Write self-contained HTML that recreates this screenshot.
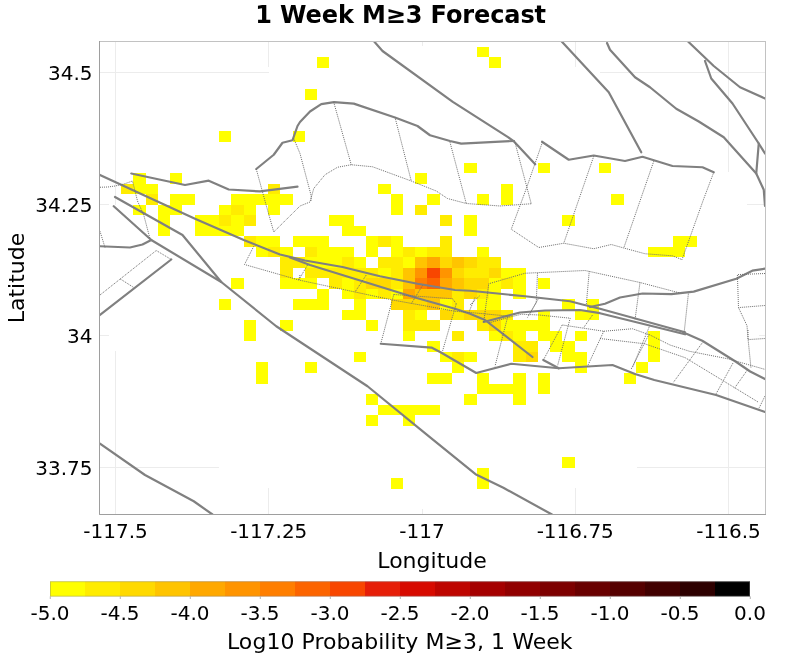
<!DOCTYPE html>
<html><head><meta charset="utf-8"><title>1 Week M≥3 Forecast</title>
<style>
html,body{margin:0;padding:0;background:#fff;}
body{width:800px;height:662px;overflow:hidden;font-family:"DejaVu Sans","Liberation Sans",sans-serif;}
svg{display:block}
text{font-family:"DejaVu Sans","Liberation Sans",sans-serif;fill:#000}
.tick text{font-size:20px}
.lab{font-size:22px}
.title{font-size:24px;font-weight:bold}
.grid line{stroke:#ececec;stroke-width:1}
.tr{fill:none;stroke:#808080;stroke-width:2.2;stroke-linecap:round;stroke-linejoin:round}
.ol{fill:none;stroke:#8c8c8c;stroke-width:0.9;}
.dt{fill:none;stroke:#6e6e6e;stroke-width:1;stroke-dasharray:1 1}
</style></head><body>
<svg width="800" height="662" viewBox="0 0 800 662">
<rect x="0" y="0" width="800" height="662" fill="#ffffff"/>
<text class="title" x="400.6" y="23" text-anchor="middle" letter-spacing="-0.11">1 Week M≥3 Forecast</text>
<g class="grid" shape-rendering="crispEdges"><line x1="115.5" y1="41" x2="115.5" y2="204.5"/><line x1="115.5" y1="351" x2="115.5" y2="514"/><line x1="268.5" y1="41" x2="268.5" y2="67"/><line x1="268.5" y1="488" x2="268.5" y2="514"/><line x1="422.5" y1="41" x2="422.5" y2="46"/><line x1="422.5" y1="509" x2="422.5" y2="514"/><line x1="575.5" y1="41" x2="575.5" y2="67"/><line x1="575.5" y1="488" x2="575.5" y2="514"/><line x1="728.5" y1="41" x2="728.5" y2="172"/><line x1="728.5" y1="384" x2="728.5" y2="514"/><line x1="100" y1="72.5" x2="268.5" y2="72.5"/><line x1="600" y1="72.5" x2="765" y2="72.5"/><line x1="100" y1="204.5" x2="109" y2="204.5"/><line x1="747" y1="204.5" x2="765" y2="204.5"/><line x1="100" y1="335.5" x2="109" y2="335.5"/><line x1="759" y1="335.5" x2="765" y2="335.5"/><line x1="100" y1="467.5" x2="219" y2="467.5"/><line x1="637" y1="467.5" x2="765" y2="467.5"/></g>
<g shape-rendering="crispEdges">
<rect x="477" y="47" width="12" height="10" fill="#ffff00"/><rect x="317" y="57" width="12" height="11" fill="#ffff00"/><rect x="489" y="57" width="12" height="11" fill="#ffff00"/><rect x="305" y="89" width="12" height="11" fill="#ffff00"/><rect x="219" y="131" width="12" height="11" fill="#ffff00"/><rect x="293" y="131" width="12" height="11" fill="#ffff00"/><rect x="464" y="163" width="13" height="10" fill="#ffff00"/><rect x="538" y="163" width="12" height="10" fill="#ffff00"/><rect x="599" y="163" width="12" height="10" fill="#ffff00"/><rect x="133" y="173" width="13" height="11" fill="#ffff00"/><rect x="170" y="173" width="12" height="11" fill="#ffff00"/><rect x="415" y="173" width="12" height="11" fill="#ffff00"/><rect x="121" y="184" width="12" height="10" fill="#ffec00"/><rect x="133" y="184" width="13" height="10" fill="#ffff00"/><rect x="146" y="184" width="12" height="10" fill="#ffff00"/><rect x="268" y="184" width="12" height="10" fill="#ffec00"/><rect x="378" y="184" width="13" height="10" fill="#ffff00"/><rect x="501" y="184" width="12" height="10" fill="#ffff00"/><rect x="146" y="194" width="12" height="11" fill="#ffec00"/><rect x="170" y="194" width="12" height="11" fill="#ffff00"/><rect x="182" y="194" width="13" height="11" fill="#ffff00"/><rect x="231" y="194" width="13" height="11" fill="#ffff00"/><rect x="244" y="194" width="12" height="11" fill="#ffff00"/><rect x="256" y="194" width="12" height="11" fill="#ffff00"/><rect x="268" y="194" width="12" height="11" fill="#ffff00"/><rect x="280" y="194" width="13" height="11" fill="#ffff00"/><rect x="391" y="194" width="12" height="11" fill="#ffff00"/><rect x="427" y="194" width="13" height="11" fill="#ffff00"/><rect x="477" y="194" width="12" height="11" fill="#ffff00"/><rect x="501" y="194" width="12" height="11" fill="#ffff00"/><rect x="611" y="194" width="13" height="11" fill="#ffff00"/><rect x="133" y="205" width="13" height="10" fill="#ffff00"/><rect x="158" y="205" width="12" height="10" fill="#ffff00"/><rect x="170" y="205" width="12" height="10" fill="#ffff00"/><rect x="219" y="205" width="12" height="10" fill="#ffff00"/><rect x="231" y="205" width="13" height="10" fill="#ffec00"/><rect x="244" y="205" width="12" height="10" fill="#ffff00"/><rect x="268" y="205" width="12" height="10" fill="#ffff00"/><rect x="391" y="205" width="12" height="10" fill="#ffff00"/><rect x="415" y="205" width="12" height="10" fill="#ffec00"/><rect x="158" y="215" width="12" height="11" fill="#ffff00"/><rect x="195" y="215" width="12" height="11" fill="#ffff00"/><rect x="207" y="215" width="12" height="11" fill="#ffff00"/><rect x="219" y="215" width="12" height="11" fill="#ffec00"/><rect x="231" y="215" width="13" height="11" fill="#ffff00"/><rect x="244" y="215" width="12" height="11" fill="#ffec00"/><rect x="329" y="215" width="13" height="11" fill="#ffff00"/><rect x="342" y="215" width="12" height="11" fill="#ffff00"/><rect x="440" y="215" width="12" height="11" fill="#ffec00"/><rect x="464" y="215" width="13" height="11" fill="#ffff00"/><rect x="562" y="215" width="13" height="11" fill="#ffff00"/><rect x="158" y="226" width="12" height="10" fill="#ffff00"/><rect x="195" y="226" width="12" height="10" fill="#ffff00"/><rect x="207" y="226" width="12" height="10" fill="#ffff00"/><rect x="219" y="226" width="12" height="10" fill="#ffff00"/><rect x="231" y="226" width="13" height="10" fill="#ffff00"/><rect x="342" y="226" width="12" height="10" fill="#ffff00"/><rect x="354" y="226" width="12" height="10" fill="#ffff00"/><rect x="464" y="226" width="13" height="10" fill="#ffff00"/><rect x="244" y="236" width="12" height="11" fill="#ffec00"/><rect x="256" y="236" width="12" height="11" fill="#ffff00"/><rect x="268" y="236" width="12" height="11" fill="#ffff00"/><rect x="293" y="236" width="12" height="11" fill="#ffff00"/><rect x="305" y="236" width="12" height="11" fill="#ffff00"/><rect x="317" y="236" width="12" height="11" fill="#ffff00"/><rect x="366" y="236" width="12" height="11" fill="#ffff00"/><rect x="378" y="236" width="13" height="11" fill="#ffec00"/><rect x="391" y="236" width="12" height="11" fill="#ffff00"/><rect x="440" y="236" width="12" height="11" fill="#ffec00"/><rect x="673" y="236" width="12" height="11" fill="#ffff00"/><rect x="685" y="236" width="12" height="11" fill="#ffff00"/><rect x="256" y="247" width="12" height="10" fill="#ffff00"/><rect x="268" y="247" width="12" height="10" fill="#ffec00"/><rect x="280" y="247" width="13" height="10" fill="#ffff00"/><rect x="305" y="247" width="12" height="10" fill="#ffec00"/><rect x="317" y="247" width="12" height="10" fill="#ffff00"/><rect x="329" y="247" width="13" height="10" fill="#ffff00"/><rect x="342" y="247" width="12" height="10" fill="#ffff00"/><rect x="366" y="247" width="12" height="10" fill="#ffff00"/><rect x="391" y="247" width="12" height="10" fill="#ffff00"/><rect x="403" y="247" width="12" height="10" fill="#ffec00"/><rect x="415" y="247" width="12" height="10" fill="#ffff00"/><rect x="427" y="247" width="13" height="10" fill="#ffec00"/><rect x="440" y="247" width="12" height="10" fill="#ffec00"/><rect x="477" y="247" width="12" height="10" fill="#ffff00"/><rect x="648" y="247" width="12" height="10" fill="#ffff00"/><rect x="660" y="247" width="13" height="10" fill="#ffff00"/><rect x="673" y="247" width="12" height="10" fill="#ffff00"/><rect x="280" y="257" width="13" height="11" fill="#ffec00"/><rect x="293" y="257" width="12" height="11" fill="#ffec00"/><rect x="305" y="257" width="12" height="11" fill="#ffff00"/><rect x="317" y="257" width="12" height="11" fill="#ffff00"/><rect x="329" y="257" width="13" height="11" fill="#ffff00"/><rect x="342" y="257" width="12" height="11" fill="#ffec00"/><rect x="354" y="257" width="12" height="11" fill="#ffff00"/><rect x="378" y="257" width="13" height="11" fill="#ffec00"/><rect x="391" y="257" width="12" height="11" fill="#ffec00"/><rect x="403" y="257" width="12" height="11" fill="#ffff00"/><rect x="415" y="257" width="12" height="11" fill="#ffc400"/><rect x="427" y="257" width="13" height="11" fill="#ffa800"/><rect x="440" y="257" width="12" height="11" fill="#ffd900"/><rect x="452" y="257" width="12" height="11" fill="#ffc400"/><rect x="464" y="257" width="13" height="11" fill="#ffd900"/><rect x="477" y="257" width="12" height="11" fill="#ffec00"/><rect x="489" y="257" width="12" height="11" fill="#ffec00"/><rect x="280" y="268" width="13" height="10" fill="#ffec00"/><rect x="305" y="268" width="12" height="10" fill="#ffec00"/><rect x="317" y="268" width="12" height="10" fill="#ffec00"/><rect x="329" y="268" width="13" height="10" fill="#ffec00"/><rect x="342" y="268" width="12" height="10" fill="#ffec00"/><rect x="354" y="268" width="12" height="10" fill="#ffec00"/><rect x="366" y="268" width="12" height="10" fill="#ffec00"/><rect x="378" y="268" width="13" height="10" fill="#ffff00"/><rect x="391" y="268" width="12" height="10" fill="#ffec00"/><rect x="403" y="268" width="12" height="10" fill="#ffc400"/><rect x="415" y="268" width="12" height="10" fill="#ff9400"/><rect x="427" y="268" width="13" height="10" fill="#f84600"/><rect x="440" y="268" width="12" height="10" fill="#ff9400"/><rect x="452" y="268" width="12" height="10" fill="#ffd900"/><rect x="464" y="268" width="13" height="10" fill="#ffec00"/><rect x="477" y="268" width="12" height="10" fill="#ffec00"/><rect x="489" y="268" width="12" height="10" fill="#ffd900"/><rect x="501" y="268" width="12" height="10" fill="#ffff00"/><rect x="513" y="268" width="13" height="10" fill="#ffff00"/><rect x="231" y="278" width="13" height="11" fill="#ffff00"/><rect x="280" y="278" width="13" height="11" fill="#ffff00"/><rect x="293" y="278" width="12" height="11" fill="#ffff00"/><rect x="305" y="278" width="12" height="11" fill="#ffff00"/><rect x="329" y="278" width="13" height="11" fill="#ffec00"/><rect x="342" y="278" width="12" height="11" fill="#ffff00"/><rect x="354" y="278" width="12" height="11" fill="#ffec00"/><rect x="366" y="278" width="12" height="11" fill="#ffd900"/><rect x="378" y="278" width="13" height="11" fill="#ffd900"/><rect x="391" y="278" width="12" height="11" fill="#ffec00"/><rect x="403" y="278" width="12" height="11" fill="#ffc400"/><rect x="415" y="278" width="12" height="11" fill="#ff7e00"/><rect x="427" y="278" width="13" height="11" fill="#fc6400"/><rect x="440" y="278" width="12" height="11" fill="#ffa800"/><rect x="452" y="278" width="12" height="11" fill="#ffc400"/><rect x="464" y="278" width="13" height="11" fill="#ffd900"/><rect x="477" y="278" width="12" height="11" fill="#ffd900"/><rect x="489" y="278" width="12" height="11" fill="#ffff00"/><rect x="501" y="278" width="12" height="11" fill="#ffec00"/><rect x="513" y="278" width="13" height="11" fill="#ffff00"/><rect x="538" y="278" width="12" height="11" fill="#ffff00"/><rect x="317" y="289" width="12" height="10" fill="#ffff00"/><rect x="342" y="289" width="12" height="10" fill="#ffff00"/><rect x="354" y="289" width="12" height="10" fill="#ffec00"/><rect x="366" y="289" width="12" height="10" fill="#ffff00"/><rect x="378" y="289" width="13" height="10" fill="#ffec00"/><rect x="391" y="289" width="12" height="10" fill="#ffff00"/><rect x="403" y="289" width="12" height="10" fill="#ffa800"/><rect x="415" y="289" width="12" height="10" fill="#ffc400"/><rect x="427" y="289" width="13" height="10" fill="#ffc400"/><rect x="440" y="289" width="12" height="10" fill="#ffc400"/><rect x="452" y="289" width="12" height="10" fill="#ffec00"/><rect x="464" y="289" width="13" height="10" fill="#ffd900"/><rect x="477" y="289" width="12" height="10" fill="#ffec00"/><rect x="489" y="289" width="12" height="10" fill="#ffff00"/><rect x="513" y="289" width="13" height="10" fill="#ffff00"/><rect x="219" y="299" width="12" height="11" fill="#ffff00"/><rect x="293" y="299" width="12" height="11" fill="#ffff00"/><rect x="305" y="299" width="12" height="11" fill="#ffff00"/><rect x="317" y="299" width="12" height="11" fill="#ffff00"/><rect x="354" y="299" width="12" height="11" fill="#ffff00"/><rect x="391" y="299" width="12" height="11" fill="#ffd900"/><rect x="403" y="299" width="12" height="11" fill="#ffd900"/><rect x="415" y="299" width="12" height="11" fill="#ffd900"/><rect x="427" y="299" width="13" height="11" fill="#ffc400"/><rect x="440" y="299" width="12" height="11" fill="#ffff00"/><rect x="452" y="299" width="12" height="11" fill="#ffec00"/><rect x="477" y="299" width="12" height="11" fill="#ffff00"/><rect x="489" y="299" width="12" height="11" fill="#ffff00"/><rect x="562" y="299" width="13" height="11" fill="#ffff00"/><rect x="587" y="299" width="12" height="11" fill="#ffff00"/><rect x="342" y="310" width="12" height="10" fill="#ffff00"/><rect x="354" y="310" width="12" height="10" fill="#ffff00"/><rect x="403" y="310" width="12" height="10" fill="#ffec00"/><rect x="415" y="310" width="12" height="10" fill="#ffff00"/><rect x="440" y="310" width="12" height="10" fill="#ffd900"/><rect x="452" y="310" width="12" height="10" fill="#ffec00"/><rect x="464" y="310" width="13" height="10" fill="#ffd900"/><rect x="477" y="310" width="12" height="10" fill="#ffd900"/><rect x="489" y="310" width="12" height="10" fill="#ffd900"/><rect x="501" y="310" width="12" height="10" fill="#ffec00"/><rect x="538" y="310" width="12" height="10" fill="#ffff00"/><rect x="575" y="310" width="12" height="10" fill="#ffff00"/><rect x="587" y="310" width="12" height="10" fill="#ffff00"/><rect x="244" y="320" width="12" height="11" fill="#ffff00"/><rect x="280" y="320" width="13" height="11" fill="#ffff00"/><rect x="366" y="320" width="12" height="11" fill="#ffff00"/><rect x="403" y="320" width="12" height="11" fill="#ffec00"/><rect x="415" y="320" width="12" height="11" fill="#ffec00"/><rect x="427" y="320" width="13" height="11" fill="#ffec00"/><rect x="477" y="320" width="12" height="11" fill="#ffec00"/><rect x="489" y="320" width="12" height="11" fill="#ffd900"/><rect x="501" y="320" width="12" height="11" fill="#ffff00"/><rect x="513" y="320" width="13" height="11" fill="#ffff00"/><rect x="526" y="320" width="12" height="11" fill="#ffff00"/><rect x="538" y="320" width="12" height="11" fill="#ffff00"/><rect x="244" y="331" width="12" height="10" fill="#ffff00"/><rect x="403" y="331" width="12" height="10" fill="#ffff00"/><rect x="452" y="331" width="12" height="10" fill="#ffec00"/><rect x="489" y="331" width="12" height="10" fill="#ffff00"/><rect x="501" y="331" width="12" height="10" fill="#ffec00"/><rect x="513" y="331" width="13" height="10" fill="#ffff00"/><rect x="538" y="331" width="12" height="10" fill="#ffff00"/><rect x="550" y="331" width="12" height="10" fill="#ffff00"/><rect x="575" y="331" width="12" height="10" fill="#ffff00"/><rect x="648" y="331" width="12" height="10" fill="#ffff00"/><rect x="427" y="341" width="13" height="11" fill="#ffff00"/><rect x="513" y="341" width="13" height="11" fill="#ffec00"/><rect x="526" y="341" width="12" height="11" fill="#ffec00"/><rect x="550" y="341" width="12" height="11" fill="#ffff00"/><rect x="562" y="341" width="13" height="11" fill="#ffff00"/><rect x="648" y="341" width="12" height="11" fill="#ffff00"/><rect x="354" y="352" width="12" height="10" fill="#ffff00"/><rect x="440" y="352" width="12" height="10" fill="#ffff00"/><rect x="452" y="352" width="12" height="10" fill="#ffec00"/><rect x="464" y="352" width="13" height="10" fill="#ffff00"/><rect x="513" y="352" width="13" height="10" fill="#ffec00"/><rect x="526" y="352" width="12" height="10" fill="#ffd900"/><rect x="562" y="352" width="13" height="10" fill="#ffff00"/><rect x="575" y="352" width="12" height="10" fill="#ffff00"/><rect x="648" y="352" width="12" height="10" fill="#ffff00"/><rect x="256" y="362" width="12" height="11" fill="#ffff00"/><rect x="305" y="362" width="12" height="11" fill="#ffff00"/><rect x="452" y="362" width="12" height="11" fill="#ffff00"/><rect x="575" y="362" width="12" height="11" fill="#ffff00"/><rect x="636" y="362" width="12" height="11" fill="#ffff00"/><rect x="256" y="373" width="12" height="11" fill="#ffff00"/><rect x="427" y="373" width="13" height="11" fill="#ffff00"/><rect x="440" y="373" width="12" height="11" fill="#ffff00"/><rect x="477" y="373" width="12" height="11" fill="#ffff00"/><rect x="513" y="373" width="13" height="11" fill="#ffff00"/><rect x="538" y="373" width="12" height="11" fill="#ffff00"/><rect x="624" y="373" width="12" height="11" fill="#ffff00"/><rect x="477" y="384" width="12" height="10" fill="#ffff00"/><rect x="489" y="384" width="12" height="10" fill="#ffff00"/><rect x="501" y="384" width="12" height="10" fill="#ffff00"/><rect x="513" y="384" width="13" height="10" fill="#ffff00"/><rect x="538" y="384" width="12" height="10" fill="#ffff00"/><rect x="366" y="394" width="12" height="11" fill="#ffff00"/><rect x="464" y="394" width="13" height="11" fill="#ffff00"/><rect x="513" y="394" width="13" height="11" fill="#ffff00"/><rect x="378" y="405" width="13" height="10" fill="#ffff00"/><rect x="391" y="405" width="12" height="10" fill="#ffff00"/><rect x="403" y="405" width="12" height="10" fill="#ffff00"/><rect x="415" y="405" width="12" height="10" fill="#ffff00"/><rect x="427" y="405" width="13" height="10" fill="#ffff00"/><rect x="366" y="415" width="12" height="11" fill="#ffff00"/><rect x="403" y="415" width="12" height="11" fill="#ffff00"/><rect x="562" y="457" width="13" height="11" fill="#ffff00"/><rect x="477" y="468" width="12" height="10" fill="#ffff00"/><rect x="391" y="478" width="12" height="11" fill="#ffff00"/><rect x="477" y="478" width="12" height="11" fill="#ffff00"/>
</g>
<clipPath id="pc"><rect x="100" y="41.5" width="665.5" height="473"/></clipPath>
<g clip-path="url(#pc)">
<path class="tr" d="M131.25 173.5 L185 185 L208.75 180.7 L228.75 189.5 L260 191.4 L297.5 186.7"/>
<path class="tr" d="M100 175 L195 218.75 L243.75 240 L280 254.5 L305 260.5 L342.5 267 L380 276.25 L417.5 283.75 L455 290 L470 290.75 L525 296.25 L570 301.25 L582.5 304.5 L600 308.8 L685 332.3"/>
<path class="tr" d="M290 257.5 L310 265 L362.5 281.25 L415 297.5 L455 308.75 L470 313.75 L485 320 L532.5 357"/>
<path class="tr" d="M483.75 322 L520 312.5 L545 310.5 L580 310 L600 313.2 L685 334.3"/>
<path class="tr" d="M590 307 L605 303.75 L620 297.5 L642.6 293.5 L671.4 294.2 L693.7 291.6 L736.3 278.8 L752.3 270.7 L765 268.6"/>
<path class="tr" d="M683 332.6 L687 334 L702.3 340.7 L736.3 362 L750.2 371.5 L765 379"/>
<path class="tr" d="M380.75 343.75 L431.5 347.6 L441 352.5 L476.25 373 L511.25 363.75 L558.75 368.25 L612.5 365 L635 374 L654.3 380 L716.1 395 L765 412"/>
<path class="tr" d="M543.25 360 L558.75 368.25"/>
<path class="tr" d="M100 443.75 L145 475 L193.75 501.25 L212.5 514.5"/>
<path class="tr" d="M115 197 L182.5 235 L221.25 282"/>
<path class="tr" d="M113.75 206.25 L151.25 240 L221.25 282 L276.25 326.25 L367.5 386.25 L428 435.6 L475.5 474.2 L503.4 487.8 L552 514.5"/>
<path class="tr" d="M100 246.25 L130 247.5 L142.5 244.5 L151.25 240"/>
<path class="tr" d="M100 315 L171.25 259.5"/>
<path class="tr" d="M256.25 169 L273.75 154.75 L282.5 142.75 L292.5 140.25 L297.5 126 L300 122 L310 111.5 L321.25 104.2 L334 102.2 L353.75 103.6 L395 117.5 L417.5 126 L430 135.25 L450 141 L461.25 143.6 L500 141.6 L514 141"/>
<path class="tr" d="M373.75 41 L382.5 51 L452.8 101.9 L508 137.1 L514 141.5 L535.2 164.3"/>
<path class="tr" d="M542 141.75 L568.75 159.75 L593.75 155.5 L625 161 L642.5 156.75 L672.5 166 L702.5 167.25 L713.75 172.25"/>
<path class="tr" d="M561.25 41 L608.75 92.25 L641.25 152.25"/>
<path class="tr" d="M607 43 L610 49.75 L635 77.25 L650 87.25 L676.25 108.75 L698.75 121.5 L723.75 137.25 L756.25 173.5 L763.75 189.75 L765 206"/>
<path class="tr" d="M687.5 41 L713.75 66 L740 87.25 L765 98.5"/>
<path class="tr" d="M705 61 L711.25 78.5 L732.5 103.5 L758.75 143.5 L765 153.5"/>
<path class="tr" d="M758.75 143.5 L756.25 173.5"/>
<path class="dt" d="M100 187.25 L108 187 L115 186 L124 184 L132.5 181 L137.5 201 L143.75 215 L150 238.75"/>
<path class="dt" d="M100 231.25 L105 247.5"/>
<path class="dt" d="M100 295 L156.25 250.5 L171.25 259.5"/>
<path class="dt" d="M120 278.75 L133.75 287.5"/>
<path class="dt" d="M256.25 169 L265 201 L273.75 232 L300 206 L310 202 L313.75 188.5 L325 174.75 L337.5 167.25 L351.25 164.75 L372.5 166.75 L411.25 181 L436.25 191 L447.5 198.5 L466.25 203.5 L500 206 L531.25 203.75"/>
<path class="dt" d="M293.75 138.5 L300 153.5 L311.25 196 L311 201"/>
<path class="dt" d="M333.75 102.25 L351.25 164.75"/>
<path class="dt" d="M395 117.25 L411.25 181"/>
<path class="dt" d="M450 142.25 L466.25 203.5"/>
<path class="dt" d="M515 142.5 L531.25 203.75"/>
<path class="dt" d="M542.5 142 L526.25 188.75 L511.25 229.25 L538.75 247.5 L563.75 243.25 L593.75 248.75 L611.25 244.5 L623.75 248 L645 253.75 L672.4 255.8 L682 259.6 L703.3 200 L713.75 172.25"/>
<path class="dt" d="M593.75 156.25 L563.75 243.25"/>
<path class="dt" d="M653.75 161.25 L623.75 248"/>
<path class="dt" d="M253.75 246.25 L244.5 264.5 L298.75 280 L355 292 L392.5 300 L455 311.25 L470 312.5 L510 316.25"/>
<path class="dt" d="M300 275 L298.75 280"/>
<path class="dt" d="M307.5 265 L298.75 280"/>
<path class="dt" d="M366.25 275 L355 292"/>
<path class="dt" d="M422.5 285.5 L411.25 303.75"/>
<path class="dt" d="M393.75 294.5 L452.5 298.75 L456.25 303.75"/>
<path class="dt" d="M393.75 294.5 L380.75 343.75"/>
<path class="dt" d="M456.25 303.75 L442.5 351.25"/>
<path class="dt" d="M475 297.5 L468.75 312.5"/>
<path class="dt" d="M483.75 322 L488.75 283.75 L525 273.25 L585 270.5 L640 282.5 L678.8 292.7"/>
<path class="dt" d="M537.5 273.25 L536.25 302.5 L527.5 317.5"/>
<path class="dt" d="M589.25 271.25 L586.25 305"/>
<path class="dt" d="M640 282.5 L635 320"/>
<path class="dt" d="M688.4 293.7 L684.2 332"/>
<path class="dt" d="M470 305 L480 295.5"/>
<path class="dt" d="M489.4 322.8 L508.8 317.3 L521.4 314.2 L538.9 315 L570.2 318.2 L567.7 327.6 L557.7 365.2"/>
<path class="dt" d="M507.5 317.5 L495 366.25"/>
<path class="dt" d="M562.5 325 L603.75 331.25 L632.5 328.75 L650 335 L670 345 L689.5 351.3 L727.8 358.8 L765 369.4"/>
<path class="dt" d="M562.1 325.1 L543.3 360.2"/>
<path class="dt" d="M538.3 298.8 L530.1 313.2"/>
<path class="dt" d="M603.75 331.25 L587.5 366.25"/>
<path class="dt" d="M650 325 L632.5 367.5"/>
<path class="dt" d="M592.5 315 L583.75 327.5"/>
<path class="dt" d="M600 338.5 L644.7 343.8 L685.2 357.7 L723.6 381 L758.7 402.4"/>
<path class="dt" d="M649 334.3 L631 369.4"/>
<path class="dt" d="M702.3 342.8 L673.5 382.2"/>
<path class="dt" d="M733 363 L716 394"/>
<path class="dt" d="M747 370.5 L734.2 388.6"/>
<path class="dt" d="M765 396 L758.7 408.8"/>
<path class="dt" d="M765 273.5 L737.4 274.6 L738.5 307.6 L765 305.5"/>
<path class="dt" d="M738.5 307.6 L747 325.7 L748 338.5 L751 368"/>
<path class="dt" d="M748 330 L748 339.6 L765 338.5"/>
</g>
<rect x="99.5" y="41.5" width="666" height="473" fill="none" stroke="#c2c2c2" stroke-width="1"/>
<path d="M99.5 41 V514.5 H766" fill="none" stroke="#9e9e9e" stroke-width="1"/>
<g class="tick"><text x="115.5" y="537.5" text-anchor="middle">-117.5</text><text x="268.75" y="537.5" text-anchor="middle">-117.25</text><text x="422" y="537.5" text-anchor="middle">-117</text><text x="575.25" y="537.5" text-anchor="middle">-116.75</text><text x="728.5" y="537.5" text-anchor="middle">-116.5</text><text x="92.5" y="80.0" text-anchor="end">34.5</text><text x="92.5" y="211.5" text-anchor="end">34.25</text><text x="92.5" y="343.0" text-anchor="end">34</text><text x="92.5" y="474.5" text-anchor="end">33.75</text></g>
<text class="lab" x="432" y="567.5" text-anchor="middle">Longitude</text>
<text class="lab" transform="translate(24.4,278) rotate(-90)" text-anchor="middle">Latitude</text>
<g><rect x="50" y="581.4" width="35" height="15" fill="#ffff00"/><rect x="85" y="581.4" width="35" height="15" fill="#ffec00"/><rect x="120" y="581.4" width="35" height="15" fill="#ffd900"/><rect x="155" y="581.4" width="35" height="15" fill="#ffc400"/><rect x="190" y="581.4" width="35" height="15" fill="#ffa800"/><rect x="225" y="581.4" width="35" height="15" fill="#ff9400"/><rect x="260" y="581.4" width="35" height="15" fill="#ff7e00"/><rect x="295" y="581.4" width="35" height="15" fill="#fc6400"/><rect x="330" y="581.4" width="35" height="15" fill="#f84600"/><rect x="365" y="581.4" width="35" height="15" fill="#e61e08"/><rect x="400" y="581.4" width="35" height="15" fill="#d70a00"/><rect x="435" y="581.4" width="35" height="15" fill="#be0500"/><rect x="470" y="581.4" width="35" height="15" fill="#a50000"/><rect x="505" y="581.4" width="35" height="15" fill="#910000"/><rect x="540" y="581.4" width="35" height="15" fill="#7d0000"/><rect x="575" y="581.4" width="35" height="15" fill="#690000"/><rect x="610" y="581.4" width="35" height="15" fill="#550000"/><rect x="645" y="581.4" width="35" height="15" fill="#410000"/><rect x="680" y="581.4" width="35" height="15" fill="#2d0000"/><rect x="715" y="581.4" width="35" height="15" fill="#000000"/></g>
<rect x="50.5" y="581.7" width="699" height="14.5" fill="none" stroke="#808080" stroke-opacity="0.4" stroke-width="1"/>
<g class="tick"><text x="50" y="619.5" text-anchor="middle">-5.0</text><line x1="50.3" y1="596.4" x2="50.3" y2="599" stroke="#a0a0a0" stroke-width="0.8"/><text x="120" y="619.5" text-anchor="middle">-4.5</text><line x1="120.3" y1="596.4" x2="120.3" y2="599" stroke="#a0a0a0" stroke-width="0.8"/><text x="190" y="619.5" text-anchor="middle">-4.0</text><line x1="190.3" y1="596.4" x2="190.3" y2="599" stroke="#a0a0a0" stroke-width="0.8"/><text x="260" y="619.5" text-anchor="middle">-3.5</text><line x1="260.3" y1="596.4" x2="260.3" y2="599" stroke="#a0a0a0" stroke-width="0.8"/><text x="330" y="619.5" text-anchor="middle">-3.0</text><line x1="330.3" y1="596.4" x2="330.3" y2="599" stroke="#a0a0a0" stroke-width="0.8"/><text x="400" y="619.5" text-anchor="middle">-2.5</text><line x1="400.3" y1="596.4" x2="400.3" y2="599" stroke="#a0a0a0" stroke-width="0.8"/><text x="470" y="619.5" text-anchor="middle">-2.0</text><line x1="470.3" y1="596.4" x2="470.3" y2="599" stroke="#a0a0a0" stroke-width="0.8"/><text x="540" y="619.5" text-anchor="middle">-1.5</text><line x1="540.3" y1="596.4" x2="540.3" y2="599" stroke="#a0a0a0" stroke-width="0.8"/><text x="610" y="619.5" text-anchor="middle">-1.0</text><line x1="610.3" y1="596.4" x2="610.3" y2="599" stroke="#a0a0a0" stroke-width="0.8"/><text x="680" y="619.5" text-anchor="middle">-0.5</text><line x1="680.3" y1="596.4" x2="680.3" y2="599" stroke="#a0a0a0" stroke-width="0.8"/><text x="750" y="619.5" text-anchor="middle">0.0</text><line x1="750.3" y1="596.4" x2="750.3" y2="599" stroke="#a0a0a0" stroke-width="0.8"/></g>
<text class="lab" x="399.8" y="649.2" text-anchor="middle" letter-spacing="0.05">Log10 Probability M≥3, 1 Week</text>
</svg>
</body></html>
